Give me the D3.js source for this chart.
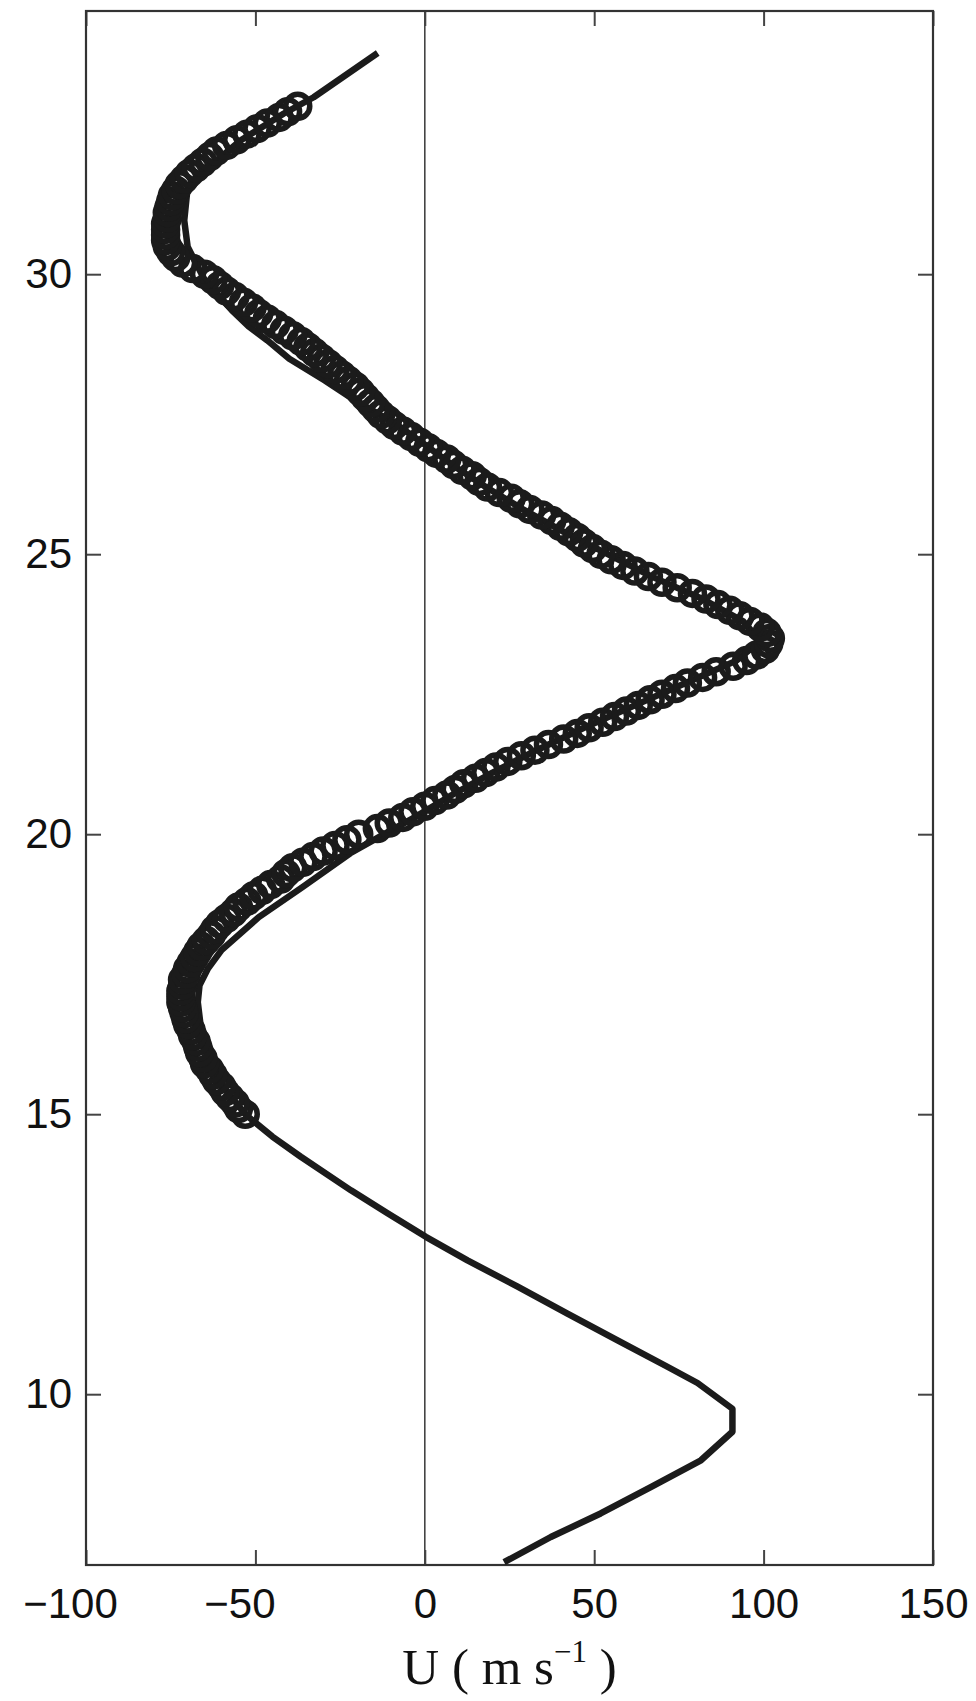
<!DOCTYPE html>
<html>
<head>
<meta charset="utf-8">
<script src="https://cdn.jsdelivr.net/npm/d3@7"></script>
<style>
  body { margin: 0; background: #fff; }
  svg { display: block; }
</style>
</head>
<body>
<script>
// model profile (thick line): height in km, wind in m/s
const lineZ = [7.0, 7.45, 7.87, 8.34, 8.82, 9.33, 9.74, 10.2, 10.49, 10.96, 11.44, 11.92, 12.39, 12.81,
  13.23, 13.64, 14.24, 14.6, 15.0, 15.5, 16.0, 16.5, 17.0, 17.3, 17.6, 17.93, 18.52, 19.06, 19.66,
  20.0, 20.3, 20.7, 21.1, 21.5, 21.9, 22.3, 22.7, 23.1, 23.45, 23.8, 24.2, 24.6, 25.0, 25.4, 25.8,
  26.2, 26.6, 27.0, 27.3, 27.5, 27.8, 28.1, 28.49, 28.82, 29.07, 29.36, 29.9, 30.49, 30.96, 31.55, 31.9, 32.39,
  32.87, 33.16, 33.95];
const lineU = [23.4, 37.2, 51.9, 66.7, 81.5, 90.8, 90.8, 80.5, 71.6, 56.9, 42.1, 27.4, 12.6, 0.3,
  -11, -21.8, -36.6, -45, -53, -59.5, -63.5, -66, -67, -66.5, -64, -60, -49, -36, -22,
  -12, -3, 8, 20, 33, 47, 62, 77, 92, 99, 94, 82, 67, 54, 41, 29,
  18, 8, -1, -8, -13.5, -22, -29.5, -40, -46.5, -52, -57, -65, -70, -71, -70, -64, -54.3,
  -41.6, -32.8, -13.9];

// observations (open circles)
const obsZ = [15.0, 15.1, 15.2, 15.3, 15.4, 15.5, 15.6, 15.7, 15.8, 15.9,
  16.0, 16.1, 16.2, 16.3, 16.4, 16.5, 16.6, 16.7, 16.8, 16.9,
  17.0, 17.1, 17.2, 17.3, 17.4, 17.5, 17.6, 17.7, 17.8, 17.9,
  18.0, 18.1, 18.2, 18.3, 18.4, 18.5, 18.6, 18.7, 18.8, 18.9,
  19.0, 19.1, 19.2, 19.3, 19.4, 19.5, 19.6, 19.7, 19.8, 19.9,
  20.0, 20.1, 20.2, 20.3, 20.4, 20.5, 20.6, 20.7, 20.8, 20.9,
  21.0, 21.1, 21.2, 21.3, 21.4, 21.5, 21.6, 21.7, 21.8, 21.9,
  22.0, 22.1, 22.2, 22.3, 22.4, 22.5, 22.6, 22.7, 22.8, 22.9,
  23.0, 23.1, 23.2, 23.3, 23.4, 23.5, 23.6, 23.7, 23.8, 23.9,
  24.0, 24.1, 24.2, 24.3, 24.4, 24.5, 24.6, 24.7, 24.8, 24.9,
  25.0, 25.1, 25.2, 25.3, 25.4, 25.5, 25.6, 25.7, 25.8, 25.9,
  26.0, 26.1, 26.2, 26.3, 26.4, 26.5, 26.6, 26.7, 26.8, 26.9,
  27.0, 27.1, 27.2, 27.3, 27.4, 27.5, 27.6, 27.7, 27.8, 27.9,
  28.0, 28.1, 28.2, 28.3, 28.4, 28.5, 28.6, 28.7, 28.8, 28.9,
  29.0, 29.1, 29.2, 29.3, 29.4, 29.5, 29.6, 29.7, 29.8, 29.9,
  30.0, 30.1, 30.2, 30.3, 30.4, 30.5, 30.6, 30.7, 30.8, 30.9,
  31.0, 31.1, 31.2, 31.3, 31.4, 31.5, 31.6, 31.7, 31.8, 31.9,
  32.0, 32.1, 32.2, 32.3, 32.4, 32.5, 32.6, 32.7, 32.8, 32.9, 33.0];
const obsU = [-53, -55, -56, -57.5, -59, -60, -61.5, -62.5, -63.5, -65,
  -65.5, -66.5, -67, -67.5, -68.5, -69, -70, -70.5, -71, -71.5,
  -72, -72, -72, -71.5, -71.5, -70.5, -70, -69, -68, -67,
  -66, -64.5, -63, -62, -60.5, -58.5, -56.5, -55, -52.5, -50.5,
  -48, -45.5, -42.5, -41, -39, -36, -33, -30, -26.5, -23,
  -19.5, -14, -10.5, -6.5, -3.5, 0, 3, 6.5, 9, 11.5,
  15, 18, 21, 24.5, 28.5, 32.5, 36.5, 41, 45, 48.5,
  52.5, 56, 59.5, 63, 66.5, 70, 74, 77.5, 82, 86,
  91, 95, 98, 100.5, 101.5, 102, 101, 99, 96, 93,
  90, 86.5, 83, 79, 74.5, 70, 66, 62, 58.5, 55,
  52, 49.5, 47, 45, 42.5, 40, 37.5, 34.5, 31, 28,
  25.5, 22, 18.5, 16, 14, 11, 8.5, 6.5, 3.5, 1,
  -1.5, -4, -6.5, -9, -11, -13, -14.5, -16, -17.5, -19,
  -20.5, -22.5, -24.5, -26.5, -28.5, -30.5, -32.5, -34.5, -36.5, -39,
  -41.5, -44, -46.5, -49, -51, -53.5, -56, -58.5, -60.5, -62.5,
  -65, -68.5, -71.5, -73.5, -75, -76, -76.5, -76.5, -76.5, -76.5,
  -76, -76, -75.5, -75, -74.5, -73.5, -72.5, -71, -69.5, -67.5,
  -65.5, -63.5, -61.5, -58.5, -55.5, -52.5, -49.5, -46.5, -43, -40.5, -37.5];

const xTicks = [-100, -50, 0, 50, 100, 150];
const yTicks = [10, 15, 20, 25, 30];

const width = 976, height = 1701;
const margin = {top: 11, right: 43, bottom: 136, left: 86};
const ink = '#1b1b1b';

const svg = d3.select('body').append('svg')
  .attr('width', width)
  .attr('height', height);

const x = d3.scaleLinear().domain([-100, 150]).range([margin.left, width - margin.right]);
const y = d3.scaleLinear().domain([6.95, 34.7]).range([height - margin.bottom, margin.top]);

svg.append('clipPath').attr('id', 'plot-clip')
  .append('rect')
  .attr('x', x(-100)).attr('y', y(34.7))
  .attr('width', x(150) - x(-100)).attr('height', y(6.95) - y(34.7));

// zero line
svg.append('line')
  .attr('x1', x(0)).attr('x2', x(0))
  .attr('y1', y(34.7)).attr('y2', y(6.95))
  .attr('stroke', '#444').attr('stroke-width', 1.6);

// axes with inward ticks
const tickFont = '"Liberation Sans", Arial, Helvetica, sans-serif';

const bottom = svg.append('g')
  .attr('transform', `translate(0,${y(6.95)})`)
  .call(d3.axisBottom(x).tickValues(xTicks).tickSizeInner(-15).tickSizeOuter(0).tickPadding(23));
bottom.selectAll('text')
  .attr('dx', d => d < 0 ? -16 : 0);

svg.append('g')
  .attr('transform', `translate(0,${y(34.7)})`)
  .call(d3.axisTop(x).tickValues(xTicks).tickSizeInner(-15).tickSizeOuter(0).tickFormat(''));

svg.append('g')
  .attr('transform', `translate(${x(-100)},0)`)
  .call(d3.axisLeft(y).tickValues(yTicks).tickSizeInner(-15).tickSizeOuter(0).tickPadding(14));

svg.append('g')
  .attr('transform', `translate(${x(150)},0)`)
  .call(d3.axisRight(y).tickValues(yTicks).tickSizeInner(-15).tickSizeOuter(0).tickFormat(''));

svg.selectAll('.domain').remove();
svg.selectAll('.tick line').attr('stroke', '#444').attr('stroke-width', 2);
svg.selectAll('.tick text')
  .attr('fill', '#111')
  .style('font-family', tickFont)
  .style('font-size', '42px');

// frame
svg.append('rect')
  .attr('x', x(-100)).attr('y', y(34.7))
  .attr('width', x(150) - x(-100)).attr('height', y(6.95) - y(34.7))
  .attr('fill', 'none').attr('stroke', '#333').attr('stroke-width', 2.2);

const plot = svg.append('g').attr('clip-path', 'url(#plot-clip)');

// model line
const lineData = lineZ.map((z, i) => ({z: z, u: lineU[i]}));
plot.append('path')
  .datum(lineData)
  .attr('fill', 'none')
  .attr('stroke', ink)
  .attr('stroke-width', 6.5)
  .attr('stroke-linejoin', 'round')
  .attr('d', d3.line().x(d => x(d.u)).y(d => y(d.z)));

// observed points
const obsData = obsZ.map((z, i) => ({z: z, u: obsU[i]}));
plot.selectAll('circle.obs')
  .data(obsData)
  .join('circle')
  .attr('class', 'obs')
  .attr('cx', d => x(d.u))
  .attr('cy', d => y(d.z))
  .attr('r', 12)
  .attr('fill', 'none')
  .attr('stroke', ink)
  .attr('stroke-width', 5.5);

// x axis title
const title = svg.append('text')
  .attr('x', (x(-100) + x(150)) / 2)
  .attr('y', 1684)
  .attr('text-anchor', 'middle')
  .attr('fill', '#111')
  .style('font-family', '"Liberation Serif", "Times New Roman", serif')
  .style('font-size', '51px');
title.append('tspan').text('U ( m s');
title.append('tspan').attr('dy', -22).style('font-size', '31px').text('\u22121');
title.append('tspan').attr('dy', 22).text(' )');
</script>
</body>
</html>
